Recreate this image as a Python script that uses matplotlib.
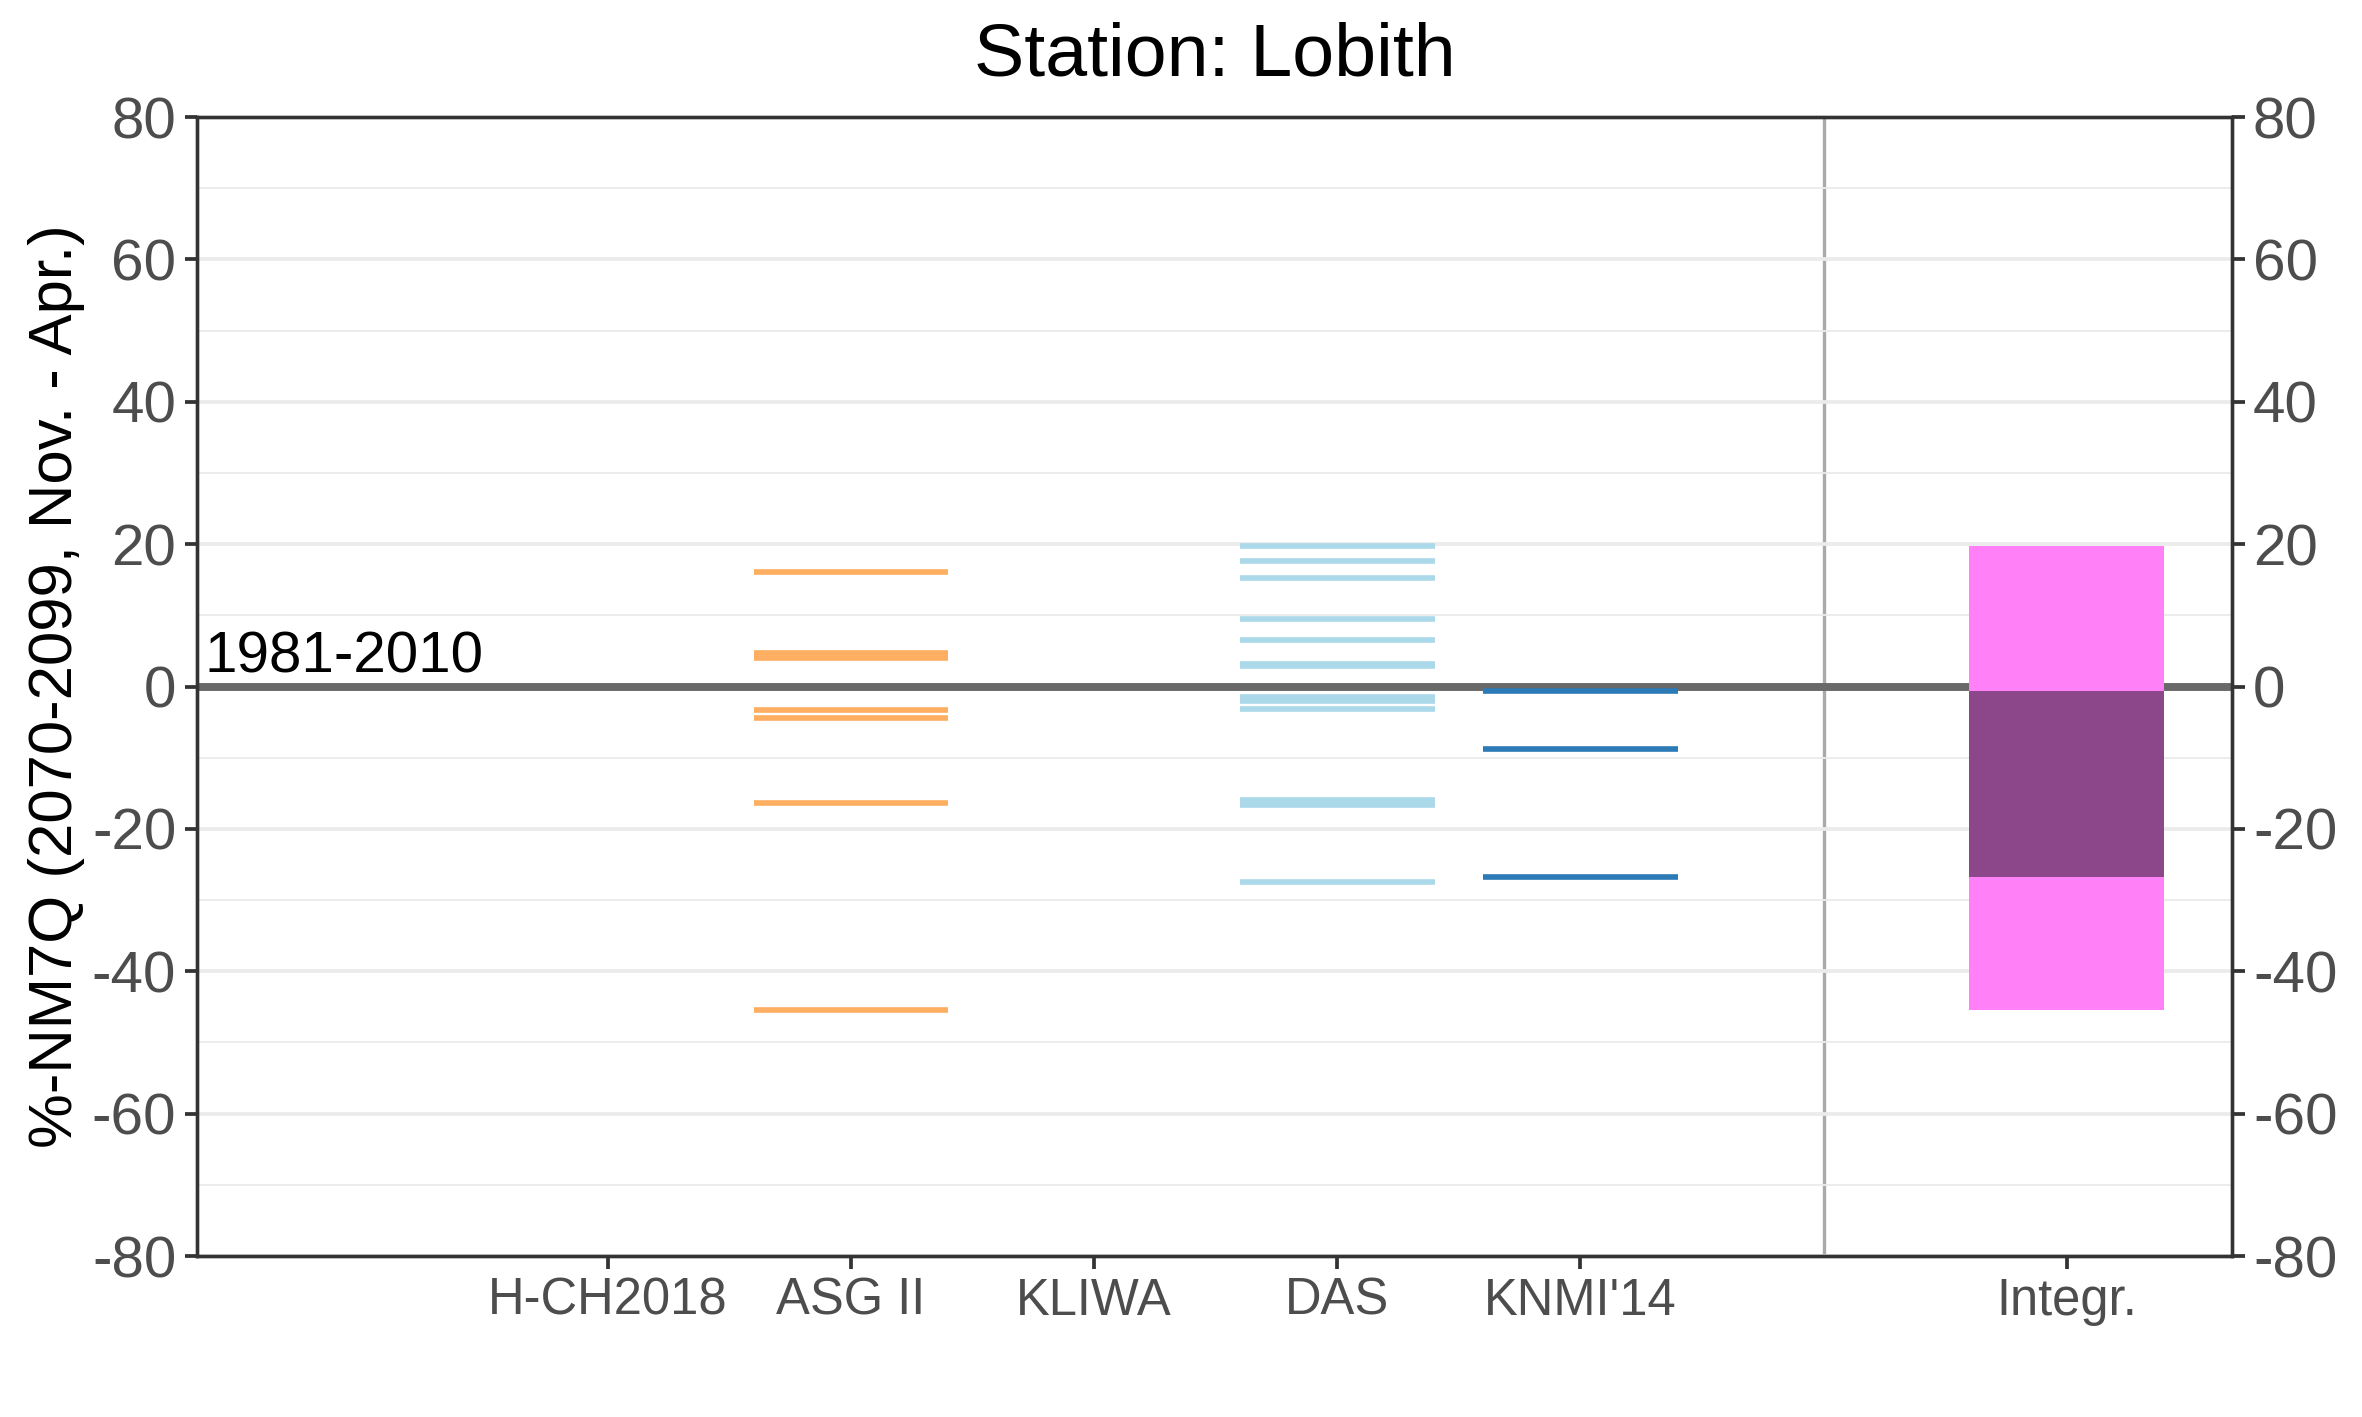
import numpy as np
import matplotlib.pyplot as plt
from matplotlib.ticker import MultipleLocator

plt.rcParams['font.family'] = ['Liberation Sans', 'DejaVu Sans']

# categories on the x axis
categories = ["H-CH2018", "ASG II", "KLIWA", "DAS", "KNMI'14"]
integr_label = "Integr."

# projected change per model run (%)
asg_vals = [16.1, 4.7, 4.0, -3.3, -4.4, -16.4, -45.5]
das_vals = [19.7, 17.6, 15.2, 9.5, 6.5, 3.1, 2.9, -1.4, -2.0, -3.1, -16.0, -16.6, -27.5]
knmi_vals = [-0.6, -8.8, -26.8]

series = {
    "ASG II": (asg_vals, "#FDAE61"),
    "DAS": (das_vals, "#ABD9E9"),
    "KNMI'14": (knmi_vals, "#2C7BB6"),
}

fig = plt.figure(figsize=(2362 / 300, 1417 / 300), dpi=300)
ax = fig.add_axes([0.0834, 0.1136, 0.8616, 0.8038])

# grid
ax.set_ylim(-80, 80)
ax.set_xlim(-0.69, 7.68)
ax.yaxis.set_major_locator(MultipleLocator(20))
ax.yaxis.set_minor_locator(MultipleLocator(10))
ax.grid(which='major', axis='y', color='#EBEBEB', lw=0.9, zorder=0)
ax.grid(which='minor', axis='y', color='#EBEBEB', lw=0.45, zorder=0)

# reference line
ax.axhline(0, color='#696969', lw=1.9, zorder=2)
ax.text(-0.66, 2.0, "1981-2010", fontsize=14, ha='left', va='baseline', color='black')

# model runs as short horizontal segments
xpos = {c: i + 1 for i, c in enumerate(categories)}
for name, (vals, col) in series.items():
    x = xpos[name]
    ax.hlines(vals, x - 0.4, x + 0.4, colors=col, lw=1.35, zorder=3)

# separator and integrated range
ax.axvline(6, color='#A9A9A9', lw=0.8, zorder=1)
all_vals = asg_vals + das_vals + knmi_vals
lo, hi = min(all_vals), max(all_vals)
klo, khi = min(knmi_vals), max(knmi_vals)
ax.bar(7, hi - lo, bottom=lo, width=0.8, color='#FF80F7', zorder=4)
ax.bar(7, khi - klo, bottom=klo, width=0.8, color='#8B4789', zorder=5)

ax.set_xticks(list(xpos.values()) + [7])
ax.set_xticklabels(categories + [integr_label])
for lab in ax.get_xticklabels():
    lab.set_fontsize(12.2)
    lab.set_color('#4D4D4D')

yt = np.arange(-80, 81, 20)
ax.set_yticks(yt)
ax.set_yticklabels([str(v) for v in yt], fontsize=14, color='#4D4D4D')
ax.tick_params(axis='both', which='major', length=3, width=0.9, color='#333333', pad=2)
ax.tick_params(axis='y', which='minor', length=0)

ax2 = ax.twinx()
ax2.set_ylim(-80, 80)
ax2.set_yticks(yt)
ax2.set_yticklabels([str(v) for v in yt], fontsize=14, color='#4D4D4D')
ax2.tick_params(axis='y', length=3, width=0.9, color='#333333', pad=2)

for a in (ax, ax2):
    for s in a.spines.values():
        s.set_color('#333333')
        s.set_linewidth(0.8)

ax.set_ylabel("%-NM7Q (2070-2099, Nov. - Apr.)", fontsize=14.8, labelpad=1.5)
ax.set_title("Station: Lobith", fontsize=18.1, pad=10)

fig.savefig("out.png", dpi=300)
